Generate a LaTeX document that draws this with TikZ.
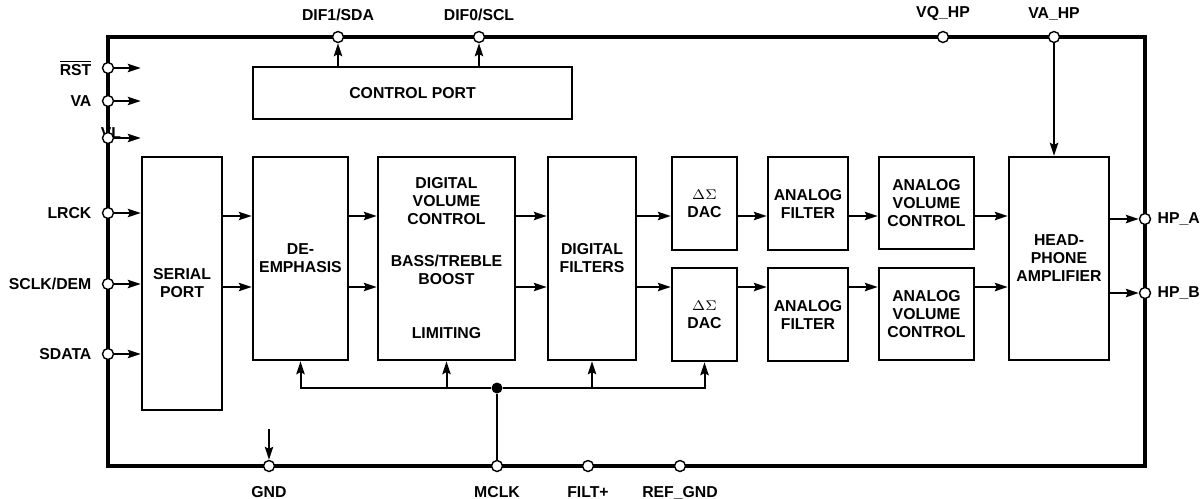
\documentclass[tikz,border=0pt]{standalone}
\usepackage{fontspec}
\setmainfont{Liberation Sans}
\usetikzlibrary{arrows.meta}
\newcommand{\ovlpin}[1]{$\overline{\hbox{#1}}$}

\begin{document}
\begin{tikzpicture}[x=0.5pt, y=-0.5pt,
    font=\fontsize{7.9}{9}\selectfont\bfseries,
    block/.style={rectangle, draw=black, fill=white, line width=1.2pt,
        align=center, inner sep=1pt},
    pin/.style={circle, draw=black, fill=white,
        minimum size=5.5pt, inner sep=0pt, line width=0.7pt},
    pinlabel/.style={inner sep=1pt},
    post/.style={line width=1pt, draw=black, -{Stealth[length=6.5pt, width=4.2pt, inset=1pt]}},
    bus/.style={line width=1pt, draw=black},
    label distance=4pt,
]
\useasboundingbox (0,0) rectangle (1203,498);
  % chip outline
  \node[draw=black, line width=1.7pt, minimum width=518.5pt, minimum height=214.5pt,
      inner sep=0pt] (chip) at (626.5,251.5) {};
  \coordinate (rowA) at (0,216);
  \coordinate (rowB) at (0,287);
  % blocks
  \node[block, minimum width=159.5pt, minimum height=26pt] (b_ctrl) at (412.5,93) {CONTROL PORT};
  \node[block, minimum width=40pt, minimum height=126.5pt] (b_serial) at (182,283.5) {SERIAL\\PORT};
  \node[block, minimum width=47.5pt, minimum height=101.5pt] (b_deemph) at (300.5,258.5) {DE-\\EMPHASIS};
  \node[block, minimum width=68.5pt, minimum height=101.5pt] (b_dvc) at (446.5,258.5)
      {DIGITAL\\VOLUME\\CONTROL\\[12pt]BASS/TREBLE\\BOOST\\[18pt]LIMITING};
  \node[block, minimum width=44pt, minimum height=101.5pt] (b_dfilt) at (592,258.5) {DIGITAL\\FILTERS};
  \node[block, minimum width=32.5pt, minimum height=46.5pt] (b_dacA) at (704.5,203.5)
      {{\normalfont\fontsize{6.8}{9}\selectfont$\Delta\Sigma$}\\DAC};
  \node[block, minimum width=32.5pt, minimum height=46.5pt] (b_dacB) at (704.5,314.5)
      {{\normalfont\fontsize{6.8}{9}\selectfont$\Delta\Sigma$}\\DAC};
  \node[block, minimum width=40pt, minimum height=46.5pt] (b_afiltA) at (808,203.5) {ANALOG\\FILTER};
  \node[block, minimum width=40pt, minimum height=46.5pt] (b_afiltB) at (808,314.5) {ANALOG\\FILTER};
  \node[block, minimum width=47.5pt, minimum height=46pt] (b_avolA) at (926.5,203) {ANALOG\\VOLUME\\CONTROL};
  \node[block, minimum width=47.5pt, minimum height=46pt] (b_avolB) at (926.5,314) {ANALOG\\VOLUME\\CONTROL};
  \node[block, minimum width=50pt, minimum height=101.5pt] (b_hp) at (1059,258.5) {HEAD-\\PHONE\\AMPLIFIER};
  % pins
  \node[pinlabel] (lbl_vl) at (111,133) {VL};
  \node[pin, label={[pinlabel]left:{\ovlpin{RST}}}] (pin_rst) at (108,68) {};
  \node[pin, label={[pinlabel]left:VA}] (pin_va) at (108,101) {};
  \node[pin] (pin_vl) at (108,138) {};
  \node[pin, label={[pinlabel]left:LRCK}] (pin_lrck) at (108,213) {};
  \node[pin, label={[pinlabel]left:SCLK/DEM}] (pin_sclk) at (108,284) {};
  \node[pin, label={[pinlabel]left:SDATA}] (pin_sdata) at (108,354) {};
  \node[pin, label={[pinlabel]above:DIF1/SDA}] (pin_dif1) at (338,37) {};
  \node[pin, label={[pinlabel]above:DIF0/SCL}] (pin_dif0) at (479,37) {};
  \node[pin, label={[pinlabel]above:VQ\_HP}] (pin_vqhp) at (943,37) {};
  \node[pin, label={[pinlabel]above:VA\_HP}] (pin_vahp) at (1054,37) {};
  \node[pin, label={[pinlabel, label distance=2pt]right:HP\_A}] (pin_hpa) at (1145,219) {};
  \node[pin, label={[pinlabel, label distance=2pt]right:HP\_B}] (pin_hpb) at (1145,293) {};
  \node[pin, label={[pinlabel, label distance=6pt]below:GND}] (pin_gnd) at (269,466) {};
  \node[pin, label={[pinlabel, label distance=6pt]below:MCLK}] (pin_mclk) at (497,466) {};
  \node[pin, label={[pinlabel, label distance=6pt]below:FILT+}] (pin_filt) at (588,466) {};
  \node[pin, label={[pinlabel, label distance=6pt]below:REF\_GND}] (pin_refgnd) at (680,466) {};
  \coordinate (gnd_in) at (269,429);
  % inputs
  \draw[post] (pin_rst) -- (pin_rst -| b_serial.west);
  \draw[post] (pin_va) -- (pin_va -| b_serial.west);
  \draw[post] (pin_vl) -- (pin_vl -| b_serial.west);
  \draw[post] (pin_lrck) -- (pin_lrck -| b_serial.west);
  \draw[post] (pin_sclk) -- (pin_sclk -| b_serial.west);
  \draw[post] (pin_sdata) -- (pin_sdata -| b_serial.west);
  \draw[post] (b_ctrl.north -| pin_dif1) -- (pin_dif1);
  \draw[post] (b_ctrl.north -| pin_dif0) -- (pin_dif0);
  \draw[post] (pin_vahp) -- (pin_vahp |- b_hp.north);
  \draw[post] (gnd_in) -- (pin_gnd);
  % signal path
  \draw[post] (b_serial.east |- rowA) -- (b_deemph.west |- rowA);
  \draw[post] (b_serial.east |- rowB) -- (b_deemph.west |- rowB);
  \draw[post] (b_deemph.east |- rowA) -- (b_dvc.west |- rowA);
  \draw[post] (b_deemph.east |- rowB) -- (b_dvc.west |- rowB);
  \draw[post] (b_dvc.east |- rowA) -- (b_dfilt.west |- rowA);
  \draw[post] (b_dvc.east |- rowB) -- (b_dfilt.west |- rowB);
  \draw[post] (b_dfilt.east |- rowA) -- (b_dacA.west |- rowA);
  \draw[post] (b_dfilt.east |- rowB) -- (b_dacB.west |- rowB);
  \draw[post] (b_dacA.east |- rowA) -- (b_afiltA.west |- rowA);
  \draw[post] (b_dacB.east |- rowB) -- (b_afiltB.west |- rowB);
  \draw[post] (b_afiltA.east |- rowA) -- (b_avolA.west |- rowA);
  \draw[post] (b_afiltB.east |- rowB) -- (b_avolB.west |- rowB);
  \draw[post] (b_avolA.east |- rowA) -- (b_hp.west |- rowA);
  \draw[post] (b_avolB.east |- rowB) -- (b_hp.west |- rowB);
  \draw[post] (b_hp.east |- pin_hpa) -- (pin_hpa);
  \draw[post] (b_hp.east |- pin_hpb) -- (pin_hpb);
  % clock bus
  \node[circle, fill=black, minimum size=5.5pt, inner sep=0pt] (jn_mclk) at (497,388) {};
  \draw[bus] (pin_mclk) -- (jn_mclk);
  \draw[post] (jn_mclk) -| (b_deemph.south);
  \draw[post] (jn_mclk) -| (b_dacB.south);
  \draw[post] (b_dvc.south |- jn_mclk) -- (b_dvc.south);
  \draw[post] (b_dfilt.south |- jn_mclk) -- (b_dfilt.south);
\end{tikzpicture}
\end{document}
